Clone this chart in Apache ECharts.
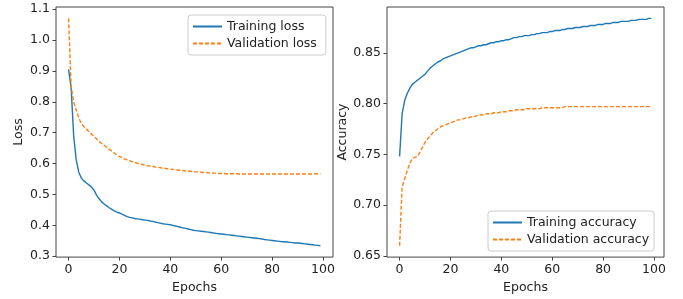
<!DOCTYPE html>
<html>
<head>
<meta charset="utf-8">
<script src="https://cdn.jsdelivr.net/npm/echarts@6/dist/echarts.min.js"></script>
<style>
  html, body { margin: 0; padding: 0; background: #fff; }
  #chart { width: 683px; height: 299px; }
</style>
</head>
<body>
<div id="chart"></div>
<script>
// values, one per epoch (0..99)
var trainLoss = [
  0.905, 0.845, 0.690, 0.612, 0.572, 0.553, 0.544, 0.537, 0.531, 0.524,
  0.514, 0.498, 0.486, 0.476, 0.469, 0.463, 0.457, 0.452, 0.447, 0.443,
  0.440, 0.436, 0.432, 0.428, 0.426, 0.424, 0.422, 0.421, 0.420, 0.418,
  0.417, 0.416, 0.414, 0.413, 0.411, 0.409, 0.407, 0.405, 0.404, 0.403,
  0.402, 0.400, 0.398, 0.396, 0.394, 0.392, 0.390, 0.388, 0.386, 0.384,
  0.383, 0.382, 0.381, 0.380, 0.379, 0.378, 0.377, 0.375, 0.374, 0.373,
  0.372, 0.371, 0.370, 0.369, 0.368, 0.367, 0.366, 0.365, 0.364, 0.363,
  0.362, 0.361, 0.360, 0.359, 0.358, 0.357, 0.356, 0.354, 0.353, 0.352,
  0.351, 0.350, 0.349, 0.348, 0.347, 0.347, 0.346, 0.345, 0.344, 0.343,
  0.343, 0.342, 0.341, 0.340, 0.339, 0.338, 0.337, 0.336, 0.335, 0.334
];
var valLoss = [
  1.070, 0.850, 0.800, 0.773, 0.748, 0.730, 0.720, 0.712, 0.703, 0.696,
  0.688, 0.680, 0.672, 0.665, 0.659, 0.652, 0.646, 0.640, 0.634, 0.628,
  0.623, 0.619, 0.615, 0.612, 0.609, 0.606, 0.603, 0.601, 0.599, 0.597,
  0.595, 0.593, 0.592, 0.591, 0.589, 0.588, 0.587, 0.585, 0.584, 0.583,
  0.582, 0.581, 0.580, 0.579, 0.578, 0.577, 0.576, 0.576, 0.575, 0.574,
  0.573, 0.573, 0.572, 0.571, 0.571, 0.570, 0.570, 0.569, 0.569, 0.568,
  0.568, 0.568, 0.567, 0.567, 0.567, 0.567, 0.567, 0.566, 0.566, 0.566,
  0.566, 0.566, 0.566, 0.566, 0.566, 0.566, 0.566, 0.566, 0.566, 0.566,
  0.566, 0.566, 0.566, 0.566, 0.566, 0.566, 0.566, 0.566, 0.566, 0.566,
  0.566, 0.566, 0.566, 0.566, 0.566, 0.566, 0.566, 0.567, 0.567, 0.567
];
var trainAcc = [
  0.748, 0.790, 0.803, 0.810, 0.815, 0.819, 0.821, 0.823, 0.825, 0.827,
  0.829, 0.832, 0.835, 0.837, 0.839, 0.841, 0.842, 0.844, 0.845, 0.846,
  0.847, 0.848, 0.849, 0.850, 0.851, 0.852, 0.853, 0.854, 0.855, 0.855,
  0.856, 0.857, 0.857, 0.858, 0.858, 0.859, 0.860, 0.860, 0.861, 0.861,
  0.862, 0.862, 0.863, 0.863, 0.864, 0.865, 0.865, 0.866, 0.866, 0.867,
  0.867, 0.867, 0.868, 0.868, 0.869, 0.869, 0.870, 0.870, 0.870, 0.871,
  0.871, 0.872, 0.872, 0.872, 0.873, 0.873, 0.874, 0.874, 0.874, 0.875,
  0.875, 0.875, 0.876, 0.876, 0.876, 0.877, 0.877, 0.877, 0.878, 0.878,
  0.878, 0.879, 0.879, 0.879, 0.880, 0.880, 0.880, 0.881, 0.881, 0.881,
  0.881, 0.882, 0.882, 0.882, 0.883, 0.883, 0.883, 0.883, 0.884, 0.884
];
var valAcc = [
  0.660, 0.718, 0.726, 0.734, 0.741, 0.746, 0.747, 0.748, 0.752, 0.757,
  0.762, 0.765, 0.768, 0.771, 0.773, 0.775, 0.777, 0.778, 0.779, 0.780,
  0.781, 0.782, 0.783, 0.784, 0.784, 0.785, 0.786, 0.786, 0.787, 0.787,
  0.788, 0.788, 0.789, 0.789, 0.790, 0.790, 0.790, 0.791, 0.791, 0.791,
  0.792, 0.792, 0.792, 0.793, 0.793, 0.793, 0.794, 0.794, 0.794, 0.794,
  0.795, 0.795, 0.795, 0.795, 0.795, 0.795, 0.796, 0.796, 0.796, 0.796,
  0.796, 0.796, 0.796, 0.796, 0.796, 0.797, 0.797, 0.797, 0.797, 0.797,
  0.797, 0.797, 0.797, 0.797, 0.797, 0.797, 0.797, 0.797, 0.797, 0.797,
  0.797, 0.797, 0.797, 0.797, 0.797, 0.797, 0.797, 0.797, 0.797, 0.797,
  0.797, 0.797, 0.797, 0.797, 0.797, 0.797, 0.797, 0.797, 0.797, 0.797
];

var epochTicks = [0, 20, 40, 60, 80, 100];
var lossTicks = [0.3, 0.4, 0.5, 0.6, 0.7, 0.8, 0.9, 1.0, 1.1];
var accTicks = [0.65, 0.70, 0.75, 0.80, 0.85];

var seriesNames = ['Training loss', 'Validation loss', 'Training accuracy', 'Validation accuracy'];
var BLUE = '#1f77b4', ORANGE = '#ff7f0e';
var FONT = 'DejaVu Sans';
var FS = 12.5;

function pairs(arr) {
    var out = [];
    for (var i = 0; i < arr.length; i++) out.push([i, arr[i]]);
    return out;
}

// matplotlib style 5% margins
function range(a, b) {
    var all = a.concat(b);
    var lo = Math.min.apply(null, all), hi = Math.max.apply(null, all);
    var m = (hi - lo) * 0.05;
    return [lo - m, hi + m];
}
var lossRange = range(trainLoss, valLoss);
var accRange = range(trainAcc, valAcc);
var xMargin = (trainLoss.length - 1) * 0.05;

function xAxis(idx) {
    return {
        type: 'value', gridIndex: idx,
        min: -xMargin, max: trainLoss.length - 1 + xMargin,
        name: 'Epochs', nameLocation: 'middle', nameGap: 21,
        nameTextStyle: { fontFamily: FONT, fontSize: FS, color: '#222' },
        axisLine: { show: false, onZero: false },
        splitLine: { show: false },
        axisTick: { show: true, length: 3.5, lineStyle: { color: '#444' }, customValues: epochTicks },
        axisLabel: { fontFamily: FONT, fontSize: FS, color: '#222', margin: 6, customValues: epochTicks }
    };
}
function yAxis(idx, name, rng, ticks, digits, gap) {
    return {
        type: 'value', gridIndex: idx,
        min: rng[0], max: rng[1],
        name: name, nameLocation: 'middle', nameGap: gap,
        nameTextStyle: { fontFamily: FONT, fontSize: FS, color: '#222' },
        axisLine: { show: false, onZero: false },
        splitLine: { show: false },
        axisTick: { show: true, length: 3.5, lineStyle: { color: '#444' }, customValues: ticks },
        axisLabel: {
            fontFamily: FONT, fontSize: FS, color: '#222', margin: 6, customValues: ticks,
            formatter: function (v) { return v.toFixed(digits); }
        }
    };
}
function line(name, data, idx, color, dashed) {
    return {
        type: 'line', name: name, xAxisIndex: idx, yAxisIndex: idx,
        data: pairs(data), symbol: 'none', silent: true, animation: false,
        lineStyle: { color: color, width: 1.4, type: dashed ? [4, 2] : 'solid' },
        itemStyle: { color: color }
    };
}
var legendBase = {
    orient: 'vertical', itemWidth: 29, itemHeight: 10, itemGap: 4,
    itemStyle: { opacity: 0 },
    backgroundColor: 'rgba(255,255,255,0.8)', borderColor: '#ccc', borderWidth: 1, borderRadius: 3,
    textStyle: { fontFamily: FONT, fontSize: FS, color: '#222' }
};

var myChart = echarts.init(document.getElementById('chart'));
var option = {
    animation: false,
    grid: [
        { left: 56, top: 7, width: 277, height: 253, show: true, borderColor: '#444', borderWidth: 1, backgroundColor: 'transparent' },
        { left: 387, top: 7, width: 277, height: 254, show: true, borderColor: '#444', borderWidth: 1, backgroundColor: 'transparent' }
    ],
    xAxis: [xAxis(0), xAxis(1)],
    yAxis: [
        yAxis(0, 'Loss', lossRange, lossTicks, 1, 31),
        yAxis(1, 'Accuracy', accRange, accTicks, 2, 37)
    ],
    legend: [
        Object.assign({}, legendBase, { data: [seriesNames[0], seriesNames[1]], left: 188, top: 15, padding: [5, 9, 5, 4] }),
        Object.assign({}, legendBase, { data: [seriesNames[2], seriesNames[3]], left: 488, top: 211, padding: [5, 5, 5, 4] })
    ],
    series: [
        line(seriesNames[0], trainLoss, 0, BLUE, false),
        line(seriesNames[1], valLoss, 0, ORANGE, true),
        line(seriesNames[2], trainAcc, 1, BLUE, false),
        line(seriesNames[3], valAcc, 1, ORANGE, true)
    ]
};
myChart.setOption(option);
</script>
</body>
</html>
